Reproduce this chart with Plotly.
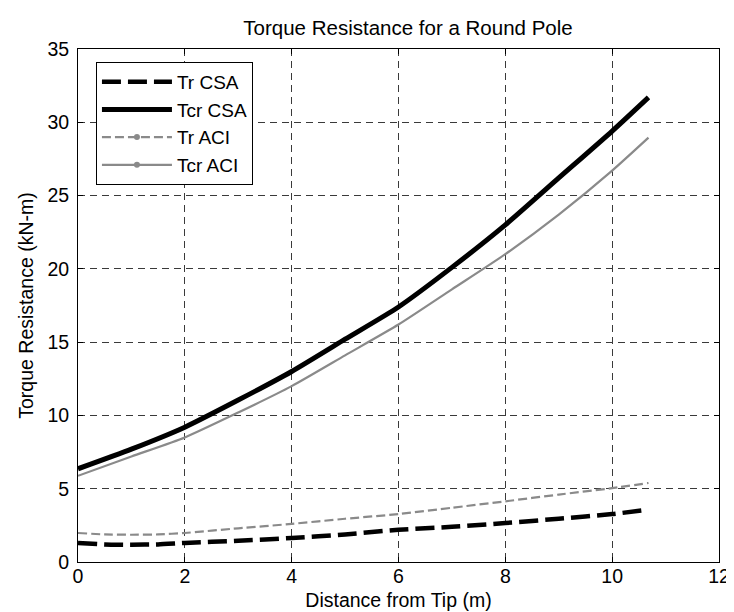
import plotly.graph_objects as go

# Distance from tip (m)
x_tcr = [0, 1, 2, 3, 4, 5, 6, 7, 8, 9, 10, 10.68]
tcr_csa = [6.36, 7.7, 9.2, 11.05, 13.0, 15.2, 17.4, 20.1, 23.0, 26.2, 29.4, 31.7]
tcr_aci = [5.88, 7.2, 8.5, 10.2, 12.0, 14.1, 16.2, 18.6, 21.0, 23.7, 26.7, 28.95]

x_tr = [0, 0.5, 1, 1.5, 2, 3, 4, 5, 6, 7, 8, 9, 10, 10.68]
tr_csa = [1.3, 1.2, 1.18, 1.2, 1.3, 1.45, 1.64, 1.88, 2.2, 2.4, 2.66, 2.95, 3.27, 3.57]
tr_aci = [1.98, 1.88, 1.86, 1.88, 1.98, 2.3, 2.6, 2.95, 3.27, 3.7, 4.14, 4.6, 5.04, 5.39]

names = ["Tr CSA", "Tcr CSA", "Tr ACI", "Tcr ACI"]
x_ticks = [0, 2, 4, 6, 8, 10, 12]
y_ticks = [0, 5, 10, 15, 20, 25, 30, 35]

BLACK = "#000000"
GRAY = "#8a8a8a"
FONT = "Liberation Sans, Arial, sans-serif"

fig = go.Figure()
fig.add_trace(go.Scatter(x=x_tr, y=tr_csa, mode="lines", name=names[0], legendgroup="a",
                         line=dict(color=BLACK, width=4.5, dash="19px,7px", shape="spline", smoothing=0.5)))
fig.add_trace(go.Scatter(x=x_tcr, y=tcr_csa, mode="lines", name=names[1], legendgroup="b",
                         line=dict(color=BLACK, width=5, shape="spline", smoothing=0.6)))
fig.add_trace(go.Scatter(x=x_tr, y=tr_aci, mode="lines", name=names[2], showlegend=False,
                         line=dict(color=GRAY, width=2.2, dash="9px,4px", shape="spline", smoothing=0.5)))
fig.add_trace(go.Scatter(x=x_tcr, y=tcr_aci, mode="lines", name=names[3], showlegend=False,
                         line=dict(color=GRAY, width=2.2, shape="spline", smoothing=0.6)))
# legend entries for ACI series (line with dot marker as in original legend)
fig.add_trace(go.Scatter(x=[None], y=[None], mode="lines+markers", name=names[2], legendgroup="c",
                         line=dict(color=GRAY, width=2.2, dash="9px,4px"),
                         marker=dict(color=GRAY, size=6)))
fig.add_trace(go.Scatter(x=[None], y=[None], mode="lines+markers", name=names[3], legendgroup="d",
                         line=dict(color=GRAY, width=2.2),
                         marker=dict(color=GRAY, size=6)))

axis_common = dict(
    showline=True, linecolor="black", linewidth=1, mirror="allticks",
    ticks="inside", ticklen=5, tickcolor="black", tickwidth=1,
    showgrid=True, gridcolor="#3a3a3a", gridwidth=1, griddash="7px,5px",
    zeroline=False, tickfont=dict(family=FONT, size=19.5, color="black"),
)

fig.update_layout(
    width=734, height=612,
    margin=dict(l=70, r=14, t=41, b=58),
    paper_bgcolor="white", plot_bgcolor="white",
    font=dict(family=FONT, size=19.5, color="black"),
    title=dict(text="Torque Resistance for a Round Pole", x=0.545, xanchor="center",
               y=0.968, yanchor="middle", font=dict(size=20.5)),
    xaxis=dict(range=[0, 12], tickvals=x_ticks, ticklabelstandoff=-3,
               title=dict(text="Distance from Tip (m)", standoff=6, font=dict(size=19.5)),
               **axis_common),
    yaxis=dict(range=[0, 35], tickvals=y_ticks, ticklabelstandoff=4,
               title=dict(text="Torque Resistance (kN-m)", standoff=8, font=dict(size=19.5)),
               **axis_common),
    legend=dict(x=0.028, y=0.975, xanchor="left", yanchor="top",
                bordercolor="black", borderwidth=1, bgcolor="white",
                font=dict(size=19), itemwidth=70, tracegroupgap=0),
    showlegend=True,
)

fig.write_html("out.html")
